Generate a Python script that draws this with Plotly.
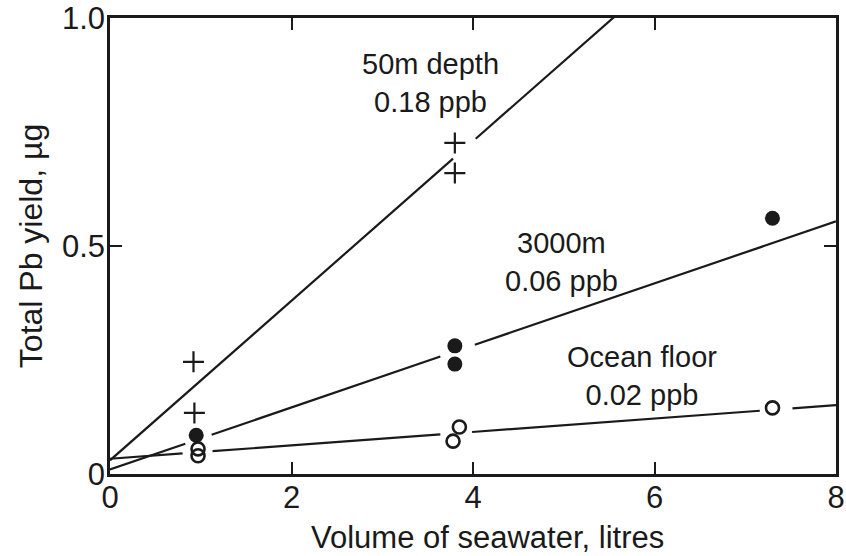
import plotly.graph_objects as go

# ---- data ----
depth50_x = [0.92, 0.93, 3.80, 3.80]
depth50_y = [0.246, 0.134, 0.726, 0.660]

depth3000_x = [0.95, 3.80, 3.80, 7.30]
depth3000_y = [0.085, 0.281, 0.241, 0.561]

floor_x = [0.97, 0.97, 3.85, 3.78, 7.30]
floor_y = [0.055, 0.040, 0.103, 0.072, 0.145]

# fitted lines: (intercept, slope)
fit50 = (0.030, 0.175)
fit3000 = (0.010, 0.068)
fitfloor = (0.0334, 0.0147)

x_ticks = [0, 2, 4, 6, 8]
y_ticks = [0, 0.5, 1.0]
y_ticktext = ["0", "0.5", "1.0"]

labels = [
    ("50m depth<br>0.18 ppb", 3.53, 0.858),
    ("3000m<br>0.06 ppb", 4.98, 0.465),
    ("Ocean floor<br>0.02 ppb", 5.86, 0.214),
]
x_title = "Volume of seawater, litres"
y_title = "Total Pb yield, µg"

FONT = "Liberation Sans, Arial, sans-serif"
INK = "#1a1a1a"


def broken_line(fit, gaps, xmax=8.0):
    """Line from x=0 to xmax, interrupted at the given (x0, x1) gaps."""
    a, b = fit
    xs, ys = [], []
    start = 0.0
    for g0, g1 in gaps:
        xs += [start, g0, None]
        ys += [a + b * start, a + b * g0, None]
        start = g1
    xs += [start, xmax]
    ys += [a + b * start, a + b * xmax]
    return xs, ys


fig = go.Figure()

line_style = dict(color=INK, width=2.2)
for fit, gaps in [
    (fit50, [(3.78, 4.03)]),
    (fit3000, [(0.83, 1.12), (3.64, 4.02)]),
    (fitfloor, [(0.80, 1.13), (3.64, 3.99), (7.16, 7.52)]),
]:
    lx, ly = broken_line(fit, gaps)
    fig.add_trace(go.Scatter(x=lx, y=ly, mode="lines", line=line_style,
                             showlegend=False, hoverinfo="skip"))

fig.add_trace(go.Scatter(
    x=depth50_x, y=depth50_y, mode="markers", showlegend=False,
    marker=dict(symbol="cross-thin", size=15, color=INK,
                line=dict(color=INK, width=2.2))))
fig.add_trace(go.Scatter(
    x=depth3000_x, y=depth3000_y, mode="markers", showlegend=False,
    marker=dict(symbol="circle", size=15, color=INK,
                line=dict(color=INK, width=0))))
fig.add_trace(go.Scatter(
    x=floor_x, y=floor_y, mode="markers", showlegend=False,
    marker=dict(symbol="circle-open", size=13, color=INK,
                line=dict(color=INK, width=2.6))))

for text, ax, ay in labels:
    fig.add_annotation(x=ax, y=ay, text=text, showarrow=False,
                       font=dict(family=FONT, size=29, color=INK),
                       align="center")

# x-axis title, sitting slightly right of the axis centre as in the reference
fig.add_annotation(x=0.52, y=-0.14, xref="paper", yref="paper",
                   xanchor="center", yanchor="middle", showarrow=False,
                   text=x_title, font=dict(family=FONT, size=31, color=INK))

axis_common = dict(
    showline=True, linecolor=INK, linewidth=2.6, mirror="ticks",
    ticks="inside", ticklen=12, tickwidth=2, tickcolor=INK,
    showgrid=False, zeroline=False, automargin=False,
    ticklabeloverflow="allow",
    tickfont=dict(family=FONT, size=31, color=INK),
)

fig.update_xaxes(range=[0, 8], tickvals=x_ticks, **axis_common,
                 ticklabelstandoff=-6)
fig.update_yaxes(range=[0, 1.0], tickvals=y_ticks, ticktext=y_ticktext,
                 **axis_common,
                 ticklabelstandoff=-4,
                 title=dict(text=y_title,
                            font=dict(family=FONT, size=32, color=INK),
                            standoff=10))

fig.update_layout(
    width=846, height=556,
    margin=dict(l=110, r=10, t=18, b=82),
    plot_bgcolor="white", paper_bgcolor="white",
)

fig.write_html(
    "out.html",
    config={"displayModeBar": False},
    post_script="document.body.style.margin='0';"
                "document.body.style.overflow='hidden';",
)
